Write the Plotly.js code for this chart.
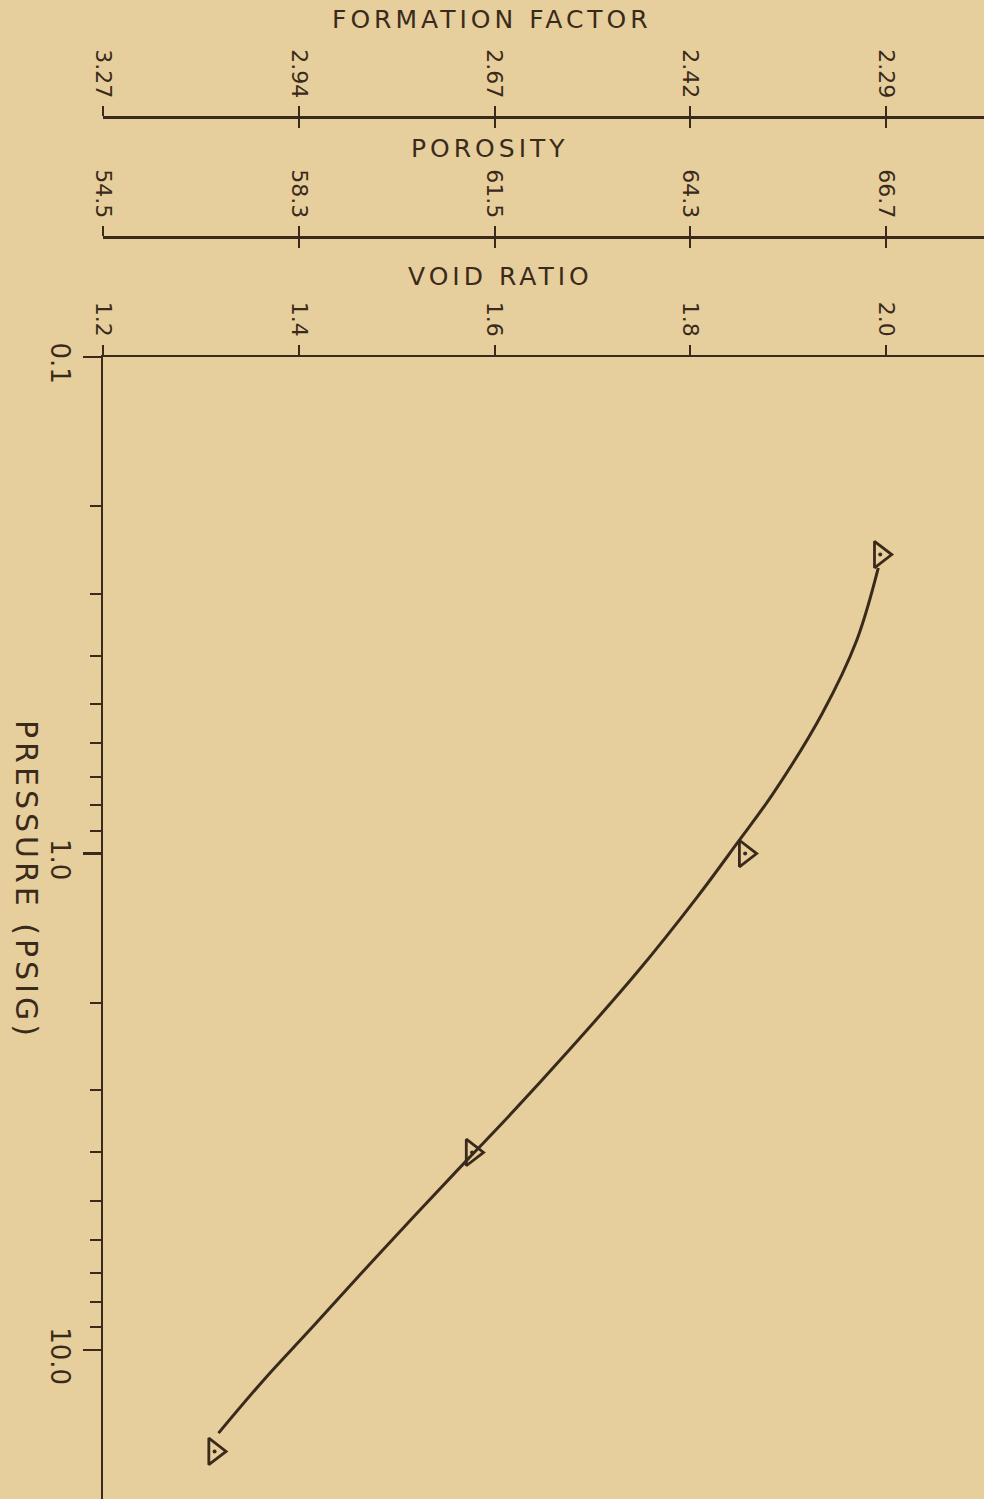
<!DOCTYPE html>
<html>
<head>
<meta charset="utf-8">
<script src="https://cdn.plot.ly/plotly-3.0.1.min.js"></script>
<style>
html,body{margin:0;padding:0;background:#e6cf9c;}
#chart{width:984px;height:1499px;}
.annotation-text{letter-spacing:4px;}
</style>
</head>
<body>
<div id="chart"></div>
<script>
// ---- data ----
var voidTicks = [1.2, 1.4, 1.6, 1.8, 2.0];
var voidLabels = ['1.2', '1.4', '1.6', '1.8', '2.0'];
var porosityLabels = ['54.5', '58.3', '61.5', '64.3', '66.7'];
var formationLabels = ['3.27', '2.94', '2.67', '2.42', '2.29'];

var pressureTicks = [0.1, 1, 10];
var pressureLabels = ['0.1', '1.0', '10.0'];
var pressureMinor = [0.2,0.3,0.4,0.5,0.6,0.7,0.8,0.9,2,3,4,5,6,7,8,9,20];

// measured points (void ratio vs pressure)
var pointVoid = [1.994, 1.856, 1.577, 1.314];
var pointPressure = [0.25, 1.0, 4.0, 16.0];

// smooth fitted curve
var curveVoid = [1.992, 1.970, 1.935, 1.885, 1.848, 1.807, 1.745, 1.679, 1.608, 1.572, 1.479, 1.414, 1.364, 1.318];
var curvePressure = [0.266, 0.372, 0.521, 0.755, 0.952, 1.224, 1.741, 2.453, 3.490, 4.14, 6.50, 8.99, 11.5, 14.7];

// ---- styling ----
var ink = '#3a2a1b';
var bg = '#e6cf9c';
var H = 1499;
function py(px){ return (H - px) / H; }

var traces = [
  {x: curveVoid, y: curvePressure, type: 'scatter', mode: 'lines',
   line: {color: ink, width: 3, shape: 'spline', smoothing: 1.0}, hoverinfo: 'skip', showlegend: false},
  {x: pointVoid, y: pointPressure, type: 'scatter', mode: 'markers',
   marker: {symbol: 'triangle-right-open', size: 23, color: ink, line: {color: ink, width: 2.8}}, showlegend: false},
  {x: pointVoid, y: pointPressure, type: 'scatter', mode: 'markers',
   marker: {symbol: 'circle', size: 4, color: ink}, showlegend: false, hoverinfo: 'skip'}
];
// empty helper traces so that the extra top scales are drawn
['x2','x3','x4','x5'].forEach(function(a){
  traces.push({x: [voidTicks[0]], y: [pressureTicks[0]], xaxis: a, yaxis: 'y', type: 'scatter', mode: 'markers',
    marker: {opacity: 0}, hoverinfo: 'skip', showlegend: false});
});

var baseX = {
  range: [1.2, 2.1], showgrid: false, zeroline: false, showline: true,
  linecolor: ink, linewidth: 2.5, tickcolor: ink, tickwidth: 2,
  tickvals: voidTicks, tickangle: 90, automargin: false,
  tickfont: {family: 'DejaVu Sans', size: 22, color: ink}
};

function ax(extra){ return Object.assign({}, baseX, extra); }

var layout = {
  width: 984, height: 1499,
  margin: {l: 103, r: 0, t: 0, b: 0},
  paper_bgcolor: bg, plot_bgcolor: bg,
  showlegend: false,
  xaxis: ax({side: 'top', anchor: 'y', ticks: 'outside', ticklen: 10, ticktext: voidLabels}),
  xaxis2: ax({side: 'top', overlaying: 'x', anchor: 'free', position: py(237), ticks: 'outside', ticklen: 10, ticktext: porosityLabels}),
  xaxis3: ax({side: 'top', overlaying: 'x', anchor: 'free', position: py(117), ticks: 'outside', ticklen: 10, ticktext: formationLabels}),
  xaxis4: ax({side: 'top', overlaying: 'x', anchor: 'free', position: py(237), ticks: 'inside', ticklen: 9, showticklabels: false}),
  xaxis5: ax({side: 'top', overlaying: 'x', anchor: 'free', position: py(117), ticks: 'inside', ticklen: 9, showticklabels: false}),
  yaxis: {
    type: 'log', range: [1.3, -1], domain: [0, py(357)],
    showgrid: false, zeroline: false, showline: true, linecolor: ink, linewidth: 2.5,
    ticks: 'outside', ticklen: 18, tickwidth: 2.5, tickcolor: ink,
    tickvals: pressureTicks, ticktext: pressureLabels, tickangle: 90,
    tickfont: {family: 'DejaVu Sans', size: 26, color: ink},
    automargin: false, ticklabelshift: -10,
    minor: {tickvals: pressureMinor, ticks: 'outside', ticklen: 11, tickwidth: 2, tickcolor: ink, showgrid: false}
  },
  annotations: [
    {text: 'FORMATION FACTOR', xref: 'paper', yref: 'paper', x: (492-103)/881, y: py(20), showarrow: false,
     xanchor: 'center', yanchor: 'middle', font: {family: 'DejaVu Sans', size: 25, color: ink}},
    {text: 'POROSITY', xref: 'paper', yref: 'paper', x: (490-103)/881, y: py(148), showarrow: false,
     xanchor: 'center', yanchor: 'middle', font: {family: 'DejaVu Sans', size: 25, color: ink}},
    {text: 'VOID RATIO', xref: 'paper', yref: 'paper', x: (500-103)/881, y: py(276), showarrow: false,
     xanchor: 'center', yanchor: 'middle', font: {family: 'DejaVu Sans', size: 25, color: ink}},
    {text: 'PRESSURE (PSIG)', xref: 'paper', yref: 'paper', x: (27-103)/881, y: py(880), showarrow: false,
     xanchor: 'center', yanchor: 'middle', textangle: 90, font: {family: 'DejaVu Sans', size: 30, color: ink}}
  ]
};

Plotly.newPlot('chart', traces, layout, {staticPlot: true, displayModeBar: false});
</script>
</body>
</html>
